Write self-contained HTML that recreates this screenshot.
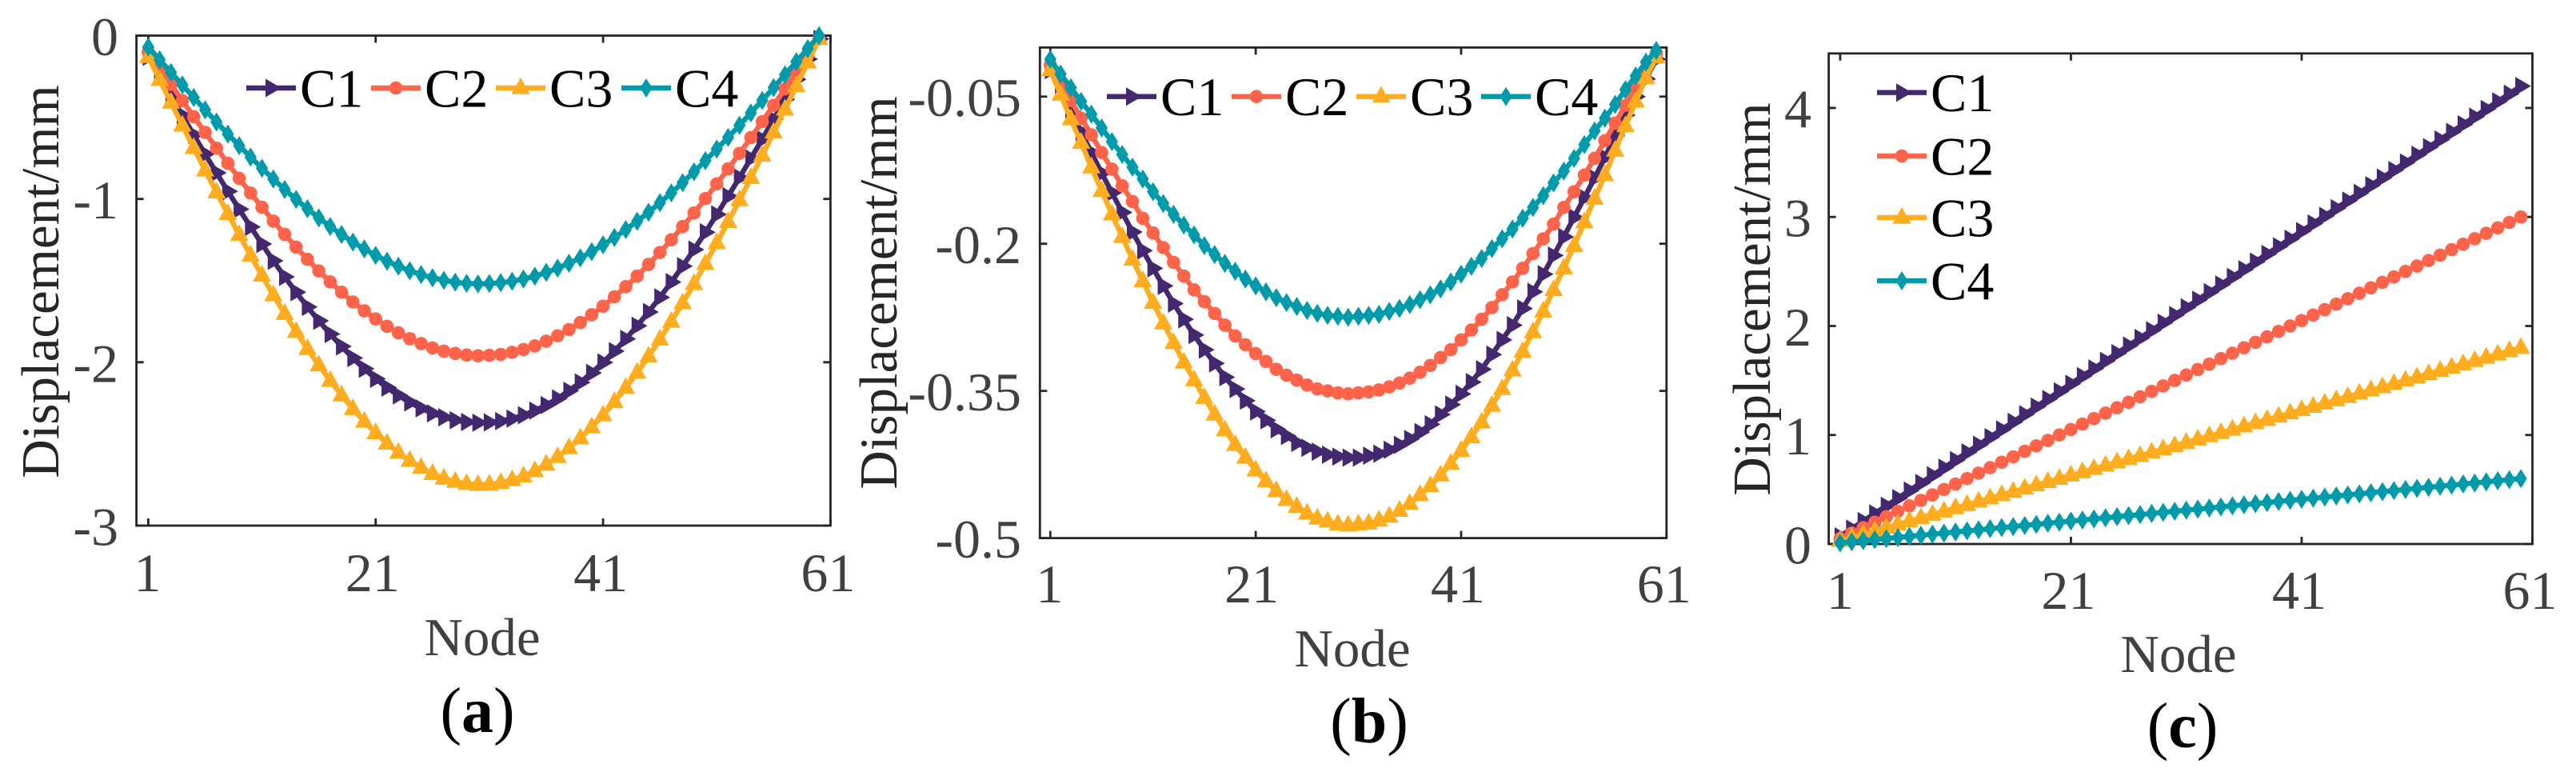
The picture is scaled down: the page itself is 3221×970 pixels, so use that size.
<!DOCTYPE html>
<html lang="en">
<head>
<meta charset="utf-8">
<title>Displacement per node, panels a to c</title>
<style>
html,body{margin:0;padding:0;background:#fff;width:3221px;height:970px;overflow:hidden}
svg{display:block}
text{font-family:"Liberation Serif",serif}
</style>
</head>
<body>
<svg id="figure" width="3221" height="970" viewBox="0 0 3221 970" xmlns="http://www.w3.org/2000/svg">
<rect x="0" y="0" width="3221" height="970" fill="#ffffff"/>
</svg>
<script>
const nodes=[1,2,3,4,5,6,7,8,9,10,11,12,13,14,15,16,17,18,19,20,21,22,23,24,25,26,27,28,29,30,31,32,33,34,35,36,37,38,39,40,41,42,43,44,45,46,47,48,49,50,51,52,53,54,55,56,57,58,59,60];
const seriesNames=["C1","C2","C3","C4"];
const xTickLabels=[1,21,41,61];

const panelAC1=[-0.13,-0.25,-0.37,-0.489,-0.608,-0.725,-0.84,-0.953,-1.063,-1.171,-1.276,-1.379,-1.477,-1.571,-1.661,-1.746,-1.827,-1.903,-1.974,-2.04,-2.101,-2.155,-2.203,-2.246,-2.282,-2.313,-2.337,-2.355,-2.366,-2.37,-2.368,-2.36,-2.345,-2.324,-2.296,-2.262,-2.222,-2.175,-2.123,-2.065,-2.001,-1.932,-1.857,-1.777,-1.692,-1.603,-1.509,-1.412,-1.31,-1.204,-1.095,-0.983,-0.869,-0.752,-0.634,-0.513,-0.391,-0.268,-0.144,-0.02];
const panelAC2=[-0.1,-0.2,-0.299,-0.398,-0.497,-0.593,-0.689,-0.782,-0.874,-0.964,-1.051,-1.136,-1.217,-1.295,-1.37,-1.441,-1.508,-1.571,-1.631,-1.685,-1.735,-1.78,-1.82,-1.856,-1.886,-1.912,-1.932,-1.946,-1.956,-1.96,-1.958,-1.952,-1.939,-1.922,-1.9,-1.871,-1.838,-1.8,-1.757,-1.709,-1.657,-1.599,-1.537,-1.472,-1.401,-1.328,-1.25,-1.169,-1.086,-0.998,-0.908,-0.816,-0.721,-0.625,-0.527,-0.427,-0.326,-0.224,-0.122,-0.02];
const panelAC3=[-0.13,-0.27,-0.41,-0.55,-0.688,-0.825,-0.959,-1.091,-1.22,-1.346,-1.469,-1.589,-1.703,-1.813,-1.918,-2.018,-2.113,-2.202,-2.286,-2.363,-2.433,-2.497,-2.553,-2.603,-2.646,-2.683,-2.711,-2.731,-2.744,-2.75,-2.748,-2.738,-2.721,-2.698,-2.666,-2.626,-2.579,-2.525,-2.465,-2.397,-2.324,-2.243,-2.156,-2.063,-1.964,-1.86,-1.751,-1.638,-1.52,-1.397,-1.27,-1.14,-1.007,-0.871,-0.734,-0.593,-0.452,-0.308,-0.164,-0.02];
const panelAC4=[-0.07,-0.148,-0.226,-0.302,-0.379,-0.455,-0.529,-0.603,-0.674,-0.744,-0.812,-0.878,-0.942,-1.003,-1.06,-1.116,-1.169,-1.218,-1.264,-1.306,-1.345,-1.381,-1.412,-1.44,-1.463,-1.483,-1.498,-1.51,-1.517,-1.52,-1.518,-1.513,-1.504,-1.49,-1.473,-1.45,-1.424,-1.394,-1.361,-1.323,-1.281,-1.236,-1.188,-1.137,-1.082,-1.023,-0.963,-0.9,-0.834,-0.766,-0.695,-0.623,-0.549,-0.473,-0.397,-0.319,-0.24,-0.16,-0.08,0];
const panelAYTicks=[0,-1,-2,-3];
const panelAYTickLabels=["0","-1","-2","-3"];

const panelBC1=[-0.023,-0.044,-0.065,-0.086,-0.107,-0.128,-0.148,-0.168,-0.188,-0.207,-0.225,-0.243,-0.261,-0.277,-0.293,-0.308,-0.322,-0.336,-0.348,-0.36,-0.371,-0.38,-0.389,-0.396,-0.403,-0.408,-0.412,-0.415,-0.417,-0.418,-0.418,-0.416,-0.414,-0.41,-0.405,-0.399,-0.392,-0.384,-0.374,-0.364,-0.353,-0.341,-0.328,-0.313,-0.298,-0.283,-0.266,-0.249,-0.231,-0.212,-0.193,-0.173,-0.153,-0.133,-0.112,-0.09,-0.069,-0.05,-0.032,-0.012];
const panelBC2=[-0.018,-0.036,-0.054,-0.072,-0.089,-0.107,-0.124,-0.141,-0.157,-0.174,-0.189,-0.204,-0.219,-0.233,-0.247,-0.259,-0.271,-0.283,-0.294,-0.303,-0.312,-0.32,-0.328,-0.334,-0.339,-0.344,-0.348,-0.35,-0.352,-0.353,-0.352,-0.351,-0.349,-0.346,-0.342,-0.337,-0.331,-0.324,-0.316,-0.308,-0.298,-0.288,-0.277,-0.265,-0.252,-0.239,-0.225,-0.21,-0.195,-0.18,-0.163,-0.147,-0.13,-0.113,-0.095,-0.077,-0.059,-0.04,-0.022,-0.006];
const panelBC3=[-0.023,-0.048,-0.073,-0.097,-0.122,-0.146,-0.17,-0.193,-0.216,-0.238,-0.26,-0.281,-0.301,-0.321,-0.339,-0.357,-0.374,-0.39,-0.405,-0.418,-0.431,-0.442,-0.452,-0.461,-0.468,-0.475,-0.48,-0.483,-0.486,-0.487,-0.486,-0.485,-0.482,-0.478,-0.472,-0.465,-0.456,-0.447,-0.436,-0.424,-0.411,-0.397,-0.382,-0.365,-0.348,-0.329,-0.31,-0.29,-0.269,-0.247,-0.225,-0.202,-0.178,-0.154,-0.13,-0.105,-0.08,-0.055,-0.031,-0.01];
const panelBC4=[-0.012,-0.027,-0.041,-0.055,-0.068,-0.082,-0.096,-0.109,-0.122,-0.134,-0.147,-0.159,-0.17,-0.181,-0.191,-0.202,-0.211,-0.22,-0.228,-0.236,-0.243,-0.249,-0.255,-0.26,-0.264,-0.268,-0.271,-0.273,-0.274,-0.275,-0.274,-0.273,-0.272,-0.269,-0.266,-0.262,-0.257,-0.252,-0.246,-0.239,-0.231,-0.223,-0.215,-0.205,-0.195,-0.185,-0.174,-0.163,-0.151,-0.138,-0.126,-0.113,-0.099,-0.085,-0.072,-0.058,-0.043,-0.029,-0.015,-0.003];
const panelBYTicks=[-0.05,-0.2,-0.35,-0.5];
const panelBYTickLabels=["-0.05","-0.2","-0.35","-0.5"];

const panelCC1=[0.07,0.14,0.21,0.28,0.35,0.42,0.49,0.56,0.63,0.7,0.77,0.84,0.91,0.98,1.05,1.12,1.19,1.26,1.33,1.4,1.47,1.54,1.61,1.68,1.75,1.82,1.89,1.96,2.03,2.1,2.17,2.24,2.31,2.38,2.45,2.52,2.59,2.66,2.73,2.8,2.87,2.94,3.01,3.08,3.15,3.22,3.29,3.36,3.43,3.5,3.57,3.64,3.71,3.78,3.85,3.92,3.99,4.06,4.13,4.2];
const panelCC2=[0.05,0.1,0.15,0.2,0.25,0.3,0.35,0.4,0.45,0.5,0.55,0.6,0.65,0.7,0.75,0.8,0.85,0.9,0.95,1,1.05,1.1,1.15,1.2,1.25,1.3,1.35,1.4,1.45,1.5,1.55,1.6,1.65,1.7,1.75,1.8,1.85,1.9,1.95,2,2.05,2.1,2.15,2.2,2.25,2.3,2.35,2.4,2.45,2.5,2.55,2.6,2.65,2.7,2.75,2.8,2.85,2.9,2.95,3];
const panelCC3=[0.03,0.06,0.09,0.12,0.15,0.18,0.21,0.24,0.27,0.3,0.33,0.36,0.39,0.42,0.45,0.48,0.51,0.54,0.57,0.6,0.63,0.66,0.69,0.72,0.75,0.78,0.81,0.84,0.87,0.9,0.93,0.96,0.99,1.02,1.05,1.08,1.11,1.14,1.17,1.2,1.23,1.26,1.29,1.32,1.35,1.38,1.41,1.44,1.47,1.5,1.53,1.56,1.59,1.62,1.65,1.68,1.71,1.74,1.77,1.8];
const panelCC4=[0.01,0.02,0.03,0.04,0.05,0.06,0.07,0.08,0.09,0.1,0.11,0.12,0.13,0.14,0.15,0.16,0.17,0.18,0.19,0.2,0.21,0.22,0.23,0.24,0.25,0.26,0.27,0.28,0.29,0.3,0.31,0.32,0.33,0.34,0.35,0.36,0.37,0.38,0.39,0.4,0.41,0.42,0.43,0.44,0.45,0.46,0.47,0.48,0.49,0.5,0.51,0.52,0.53,0.54,0.55,0.56,0.57,0.58,0.59,0.6];
const panelCYTicks=[0,1,2,3,4];
const panelCYTickLabels=["0","1","2","3","4"];

const COLORS={C1:"#43286F",C2:"#FF634A",C3:"#FFAC1E",C4:"#009BAA"};
const svg=document.getElementById("figure");
const NS="http://www.w3.org/2000/svg";

function make(tag,attrs,parent,txt){
  const el=document.createElementNS(NS,tag);
  for(const k in attrs){el.setAttribute(k,attrs[k]);}
  if(txt!==undefined){el.textContent=txt;}
  parent.appendChild(el);
  return el;
}
function markerPath(name,x,y){
  const f=n=>n.toFixed(2);
  if(name==="C1"){return "M"+f(x-7)+" "+f(y-11.5)+"L"+f(x+12.8)+" "+f(y)+"L"+f(x-7)+" "+f(y+11.5)+"Z";}
  if(name==="C3"){return "M"+f(x)+" "+f(y-13.3)+"L"+f(x+11.5)+" "+f(y+7.7)+"L"+f(x-11.5)+" "+f(y+7.7)+"Z";}
  if(name==="C4"){return "M"+f(x)+" "+f(y-12)+"L"+f(x+7.6)+" "+f(y)+"L"+f(x)+" "+f(y+12)+"L"+f(x-7.6)+" "+f(y)+"Z";}
  return "";
}
function drawMarker(name,x,y,parent){
  let m;
  if(name==="C2"){
    m=make("circle",{cx:x.toFixed(2),cy:y.toFixed(2),r:8.3,fill:COLORS[name]},parent);
  }else{
    m=make("path",{d:markerPath(name,x,y),fill:COLORS[name]},parent);
  }
  
  
}

function drawPanel(p){
  const g=make("g",{},svg);
  
  

  const xScale=n=>p.x0+(n-p.xMin)*(p.x1-p.x0)/(p.xMax-p.xMin);
  const yScale=v=>p.top+(p.yMax-v)*(p.bottom-p.top)/(p.yMax-p.yMin);

  const frame=make("rect",{x:p.left,y:p.top,width:p.x1-p.left,height:p.bottom-p.top,fill:"none",stroke:"#262626","stroke-width":2.8},g);
  
  

  xTickLabels.forEach((t,i)=>{
    const x=xScale(t);
    const a=make("path",{d:"M"+x+" "+p.bottom+"v-9M"+x+" "+p.top+"v9",stroke:"#262626","stroke-width":2.8,fill:"none"},g);
    
    
    const l=make("text",{x:x+p.xLabelShift[i],y:p.xLabelY,"font-size":68,"text-anchor":"middle",fill:"#404040"},g,String(t));
    
    
  });
  p.yTicks.forEach((t,i)=>{
    const y=yScale(t);
    const a=make("path",{d:"M"+p.left+" "+y+"h9M"+p.x1+" "+y+"h-9",stroke:"#262626","stroke-width":2.8,fill:"none"},g);
    
    
    const l=make("text",{x:p.yLabelX,y:y+24.5,"font-size":68,"text-anchor":"end",fill:"#404040"},g,p.yLabels[i]);
    
    
  });

  p.series.forEach((values,i)=>{
    const name=seriesNames[i];
    const sg=make("g",{},g);
    
    
    const d=values.map((v,j)=>(j?"L":"M")+xScale(nodes[j]).toFixed(2)+" "+yScale(v).toFixed(2)).join("");
    const line=make("path",{d:d,fill:"none",stroke:COLORS[name],"stroke-width":6.4,"stroke-linejoin":"round"},sg);
    
    
    values.forEach((v,j)=>{drawMarker(name,xScale(nodes[j]),yScale(v),sg);});
  });

  const xt=make("text",{x:p.nodeX,y:p.nodeY,"font-size":67,"text-anchor":"middle",fill:"#404040"},g,"Node");
  
  

  const yt=make("text",{transform:"translate("+p.yTitleX+" "+p.yTitleY+") rotate(-90)","font-size":67,"text-anchor":"middle",fill:"#262626"},g,"Displacement/mm");
  
  

  const cap=make("text",{x:p.capX,y:p.capY,"font-size":80,"text-anchor":"middle",fill:"#000000"},g);
  
  
  make("tspan",{},cap,"(");
  make("tspan",{"font-weight":"bold"},cap,p.id);
  make("tspan",{},cap,")");

  const lg=make("g",{},g);
  
  
  seriesNames.forEach((name,i)=>{
    const e=p.legend[i];
    const eg=make("g",{},lg);
    
    
    const ln=make("line",{x1:e[0],x2:e[0]+62,y1:e[1],y2:e[1],stroke:COLORS[name],"stroke-width":6.4},eg);
    
    
    drawMarker(name,e[0]+31,e[1],eg);
    const tx=make("text",{x:e[0]+67,y:e[1]+23.3,"font-size":68,fill:"#000000"},eg,name);
    
    
  });
}

drawPanel({id:"a",left:170.6,x0:185.4,x1:1038.4,top:44.5,bottom:657,xMin:1,xMax:61,yMin:-3,yMax:0,
  series:[panelAC1,panelAC2,panelAC3,panelAC4],yTicks:panelAYTicks,yLabels:panelAYTickLabels,
  xLabelY:739,xLabelShift:[-1,-4,-3,-3],yLabelX:148,nodeX:603,nodeY:819,yTitleX:73,yTitleY:352,capX:597,capY:915,
  legend:[[308,110],[464,110],[620,110],[777,110]]});
drawPanel({id:"b",left:1300.3,x0:1313.3,x1:2083.8,top:59.4,bottom:672.6,xMin:1,xMax:61,yMin:-0.5,yMax:0,
  series:[panelBC1,panelBC2,panelBC3,panelBC4],yTicks:panelBYTicks,yLabels:panelBYTickLabels,
  xLabelY:753,xLabelShift:[-1,-5,-4,-3],yLabelX:1277,nodeX:1691,nodeY:833,yTitleX:1121,yTitleY:366,capX:1712,capY:928,
  legend:[[1384,120.7],[1540,120.7],[1696,120.7],[1852,120.7]]});
drawPanel({id:"c",left:2286.6,x0:2300.9,x1:3166.5,top:66.8,bottom:680,xMin:1,xMax:61,yMin:0,yMax:4.5,
  series:[panelCC1,panelCC2,panelCC3,panelCC4],yTicks:panelCYTicks,yLabels:panelCYTickLabels,
  xLabelY:761,xLabelShift:[0,-3,-3,-3],yLabelX:2265,nodeX:2724,nodeY:840,yTitleX:2213,yTitleY:374,capX:2729,capY:934,
  legend:[[2347,115.7],[2347,195],[2347,272],[2347,351]]});
</script>
</body>
</html>
